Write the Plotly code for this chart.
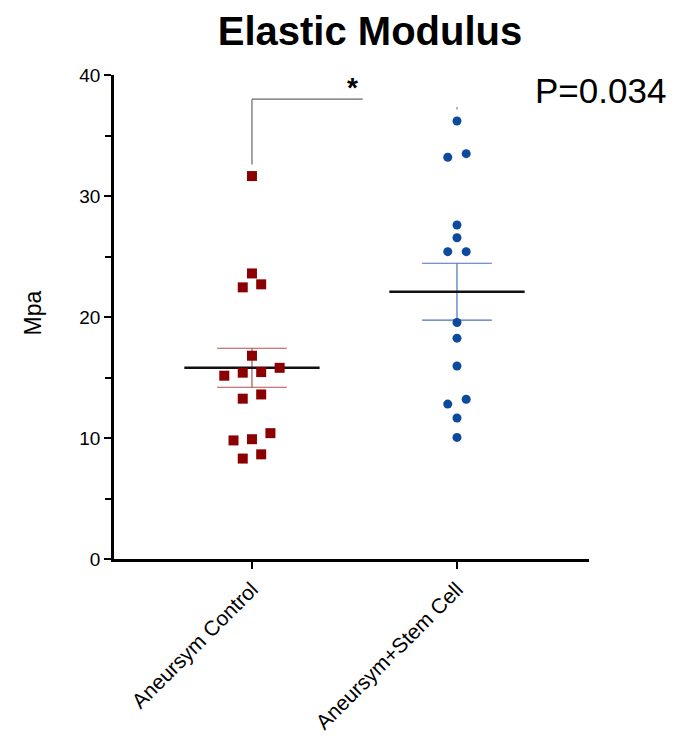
import numpy as np
import plotly.graph_objects as go

categories = ["Aneursym Control", "Aneursym+Stem Cell"]
control = [31.65, 23.6, 22.45, 22.7, 16.8, 15.15, 15.4, 15.45, 15.8, 13.25, 13.6, 9.9, 9.8, 10.4, 8.3, 8.65]
stem = [36.2, 33.2, 33.5, 27.6, 26.55, 25.4, 25.4, 19.55, 18.25, 15.95, 12.8, 13.2, 11.65, 10.05]
p_text = "P=0.034"
y_ticks = [0, 10, 20, 30, 40]

FONT = "Arial, Liberation Sans, sans-serif"
colors = ["#8b0000", "#0b4a9c"]
err_colors = ["#b5504f", "#4a72b8"]
symbols = ["square", "circle"]
sizes = [10, 9]


def swarm_offsets(vals, gap=0.6, step=0.09):
    vals = np.asarray(vals, float)
    order = np.argsort(vals)
    offs = np.zeros(len(vals))
    groups, cur = [], [order[0]]
    for a, b in zip(order[:-1], order[1:]):
        if vals[b] - vals[a] <= gap:
            cur.append(b)
        else:
            groups.append(cur)
            cur = [b]
    groups.append(cur)
    for g in groups:
        n = len(g)
        for i, idx in enumerate(g):
            offs[idx] = (i - (n - 1) / 2) * step
    return offs


fig = go.Figure()
shapes = []
for i, data in enumerate([control, stem]):
    arr = np.asarray(data)
    m = arr.mean()
    sem = arr.std(ddof=1) / np.sqrt(len(arr))
    ec = err_colors[i]
    shapes.append(dict(type="line", xref="x", yref="y", x0=i, x1=i, y0=m - sem, y1=m + sem,
                       line=dict(color=ec, width=1.2), layer="below"))
    for yv in (m - sem, m + sem):
        shapes.append(dict(type="line", xref="x", yref="y", x0=i - 0.17, x1=i + 0.17, y0=yv, y1=yv,
                           line=dict(color=ec, width=1.2), layer="below"))
    shapes.append(dict(type="line", xref="x", yref="y", x0=i - 0.33, x1=i + 0.33, y0=m, y1=m,
                       line=dict(color="#111111", width=2.5), layer="below"))
    fig.add_trace(go.Scatter(
        x=i + swarm_offsets(arr), y=arr, mode="markers",
        marker=dict(symbol=symbols[i], size=sizes[i], color=colors[i], line=dict(width=0)),
        showlegend=False, hoverinfo="y"))

# significance bracket
br_y, br_low, br_right = 38.0, 32.6, 0.54
shapes.append(dict(type="line", xref="x", yref="y", x0=0, x1=br_right, y0=br_y, y1=br_y,
                   line=dict(color="#666666", width=1.2)))
shapes.append(dict(type="line", xref="x", yref="y", x0=0, x1=0, y0=br_y, y1=br_low,
                   line=dict(color="#666666", width=1.2)))
shapes.append(dict(type="line", xref="x", yref="y", x0=1, x1=1, y0=37.15, y1=37.35,
                   line=dict(color="#666666", width=1)))

fig.update_layout(
    width=681, height=746,
    margin=dict(l=106, r=100, t=67, b=195),
    paper_bgcolor="white", plot_bgcolor="white",
    font=dict(family=FONT, color="black"),
    shapes=shapes,
    title=dict(text="<b>Elastic Modulus</b>", x=0.539, xref="paper", xanchor="center",
               y=1 - 23 / 746, yref="container", yanchor="middle",
               font=dict(size=40, family=FONT, color="black")),
    xaxis=dict(range=[-0.673, 1.644], tickvals=[0, 1], ticktext=categories, tickangle=-45,
               showgrid=False, zeroline=False, showline=True, linecolor="black", linewidth=2.5,
               ticks="outside", ticklen=7, tickwidth=2, tickcolor="black", automargin=False,
               tickfont=dict(size=21, family=FONT, color="black")),
    yaxis=dict(range=[0, 40], tickvals=y_ticks, showgrid=False, zeroline=False,
               showline=True, linecolor="black", linewidth=2.5, automargin=False,
               ticks="outside", ticklen=7, tickwidth=2, tickcolor="black",
               tickfont=dict(size=19, family=FONT, color="black"),
               minor=dict(dtick=5, ticks="outside", ticklen=6, tickwidth=2, tickcolor="black")),
    annotations=[
        dict(text="Mpa", xref="paper", yref="paper", x=-0.17, y=0.508, textangle=-90,
             showarrow=False, font=dict(size=23, family=FONT, color="black"),
             xanchor="center", yanchor="middle"),
        dict(text=p_text, xref="paper", yref="paper", x=0.883, y=0.969, xanchor="left",
             yanchor="middle", showarrow=False, font=dict(size=35, family=FONT, color="black")),
        dict(text="<b>*</b>", xref="x", yref="y", x=0.49, y=37.5, xanchor="center",
             yanchor="bottom", showarrow=False, font=dict(size=28, family=FONT, color="black")),
    ],
)

fig.write_html("out.html")
